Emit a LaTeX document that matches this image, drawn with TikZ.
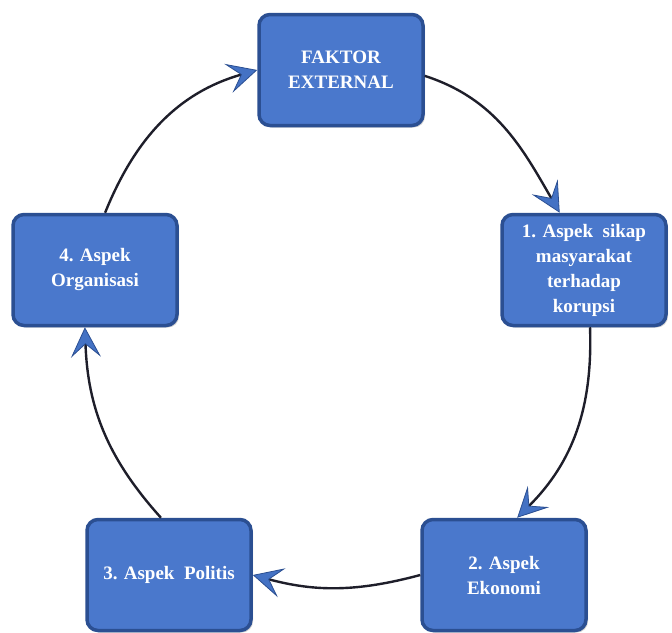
\documentclass[tikz,border=0pt]{standalone}
\usepackage{fontspec}
\setmainfont{Liberation Serif}
\usepackage{tikz}
\usetikzlibrary{arrows.meta,shadows}
\definecolor{boxblue}{HTML}{4A78CC}
\definecolor{boxedge}{HTML}{2B4F92}
\definecolor{tipblue}{HTML}{4472C4}
\definecolor{linecol}{HTML}{1E1E2A}

\begin{document}
\begin{tikzpicture}[
  x=1pt, y=-1pt,
  b/.style={draw=boxedge, line width=3.5pt, rounded corners=11pt, fill=boxblue,
    minimum width=164pt, minimum height=111pt, align=center, text=white,
    font=\fontsize{19}{25}\selectfont\bfseries,
    drop shadow={shadow xshift=2pt, shadow yshift=-2pt, opacity=0.35}},
  arr/.style={-{Stealth[length=30pt, width=30pt, inset=13pt, line width=0.8pt, color=boxedge, fill=tipblue]},
    line width=2.4pt, draw=linecol}
]
  \useasboundingbox (0,0) rectangle (672,632);

  \node[b] (ext) at (341,70) {FAKTOR\\EXTERNAL};
  \node[b] (sikap) at (584,270) {1. Aspek~~sikap\\masyarakat\\terhadap\\korupsi};
  \node[b] (eko) at (504,575) {2. Aspek\\Ekonomi};
  \node[b] (pol) at (169,575) {3. Aspek~~Politis};
  \node[b] (org) at (95,270) {4. Aspek\\Organisasi};

  \draw[arr] (ext.-4) to[out=-18, in=120] (sikap.113);
  \draw[arr] (sikap.-84) to[out=-88, in=45] (eko.77);
  \draw[arr] (eko.west) to[out=195, in=-15] (pol.east);
  \draw[arr] (pol.98) to[out=132, in=-88] (org.-100);
  \draw[arr] (org.80) to[out=68, in=196] (ext.west);
\end{tikzpicture}
\end{document}
